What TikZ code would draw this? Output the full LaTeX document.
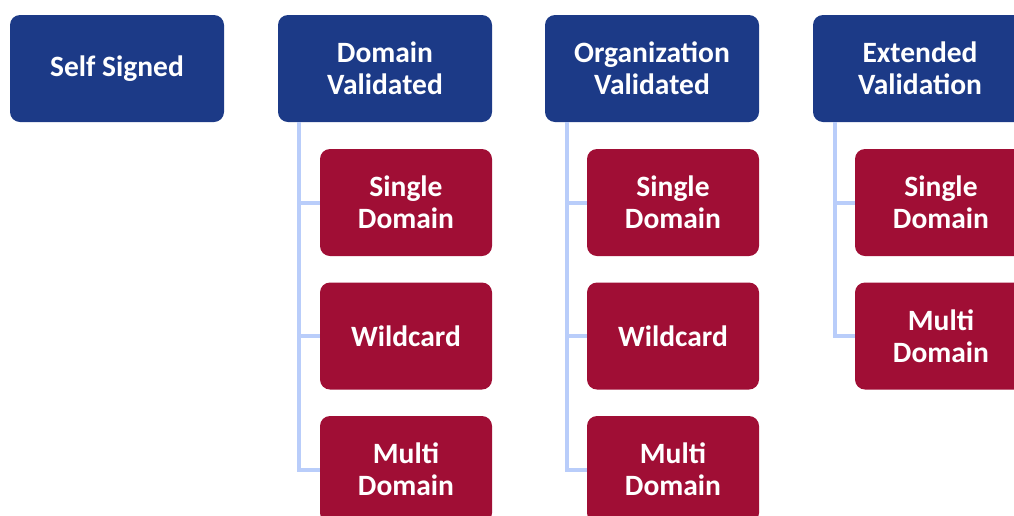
\documentclass[tikz,border=0pt]{standalone}
\usepackage{fontspec}
\setmainfont{Carlito}
\definecolor{hdblue}{RGB}{28,58,135}
\definecolor{itemred}{RGB}{160,14,53}
\definecolor{linkblue}{RGB}{185,205,250}
\tikzset{
  head/.style={fill=hdblue, rounded corners=10pt, minimum width=214pt, minimum height=107pt, inner sep=0pt, text=white, font=\fontsize{29.5}{32}\selectfont\bfseries, align=center},
  item/.style={fill=itemred, rounded corners=10pt, minimum width=172pt, minimum height=107pt, inner sep=0pt, text=white, font=\fontsize{29.5}{32}\selectfont\bfseries, align=center},
  link/.style={draw=linkblue, line width=4pt}
}
\begin{document}
\begin{tikzpicture}[x=1pt,y=-1pt]
\useasboundingbox (0,0) rectangle (1014,515);
\clip (0,0) rectangle (1014,515);
% headers
\node[head] (ss) at (117,68.5) {Self Signed};
\node[head] (dv) at (385,68.5) {Domain\\Validated};
\node[head] (ov) at (652,68.5) {Organization\\Validated};
\node[head] (ev) at (920,68.5) {Extended\\Validation};
% DV items
\node[item] (dv1) at (406,202.5) {Single\\Domain};
\node[item] (dv2) at (406,336) {Wildcard};
\node[item] (dv3) at (406,469.5) {Multi\\Domain};
% OV items
\node[item] (ov1) at (673,202.5) {Single\\Domain};
\node[item] (ov2) at (673,336) {Wildcard};
\node[item] (ov3) at (673,469.5) {Multi\\Domain};
% EV items
\node[item] (ev1) at (941,202.5) {Single\\Domain};
\node[item] (ev2) at (941,336) {Multi\\Domain};
% trunks
\coordinate (dvt) at (299,122);
\coordinate (ovt) at (567,122);
\coordinate (evt) at (835,122);
\draw[link] (dvt) |- (dv3.west);
\draw[link] (dvt |- dv1.west) -- (dv1.west);
\draw[link] (dvt |- dv2.west) -- (dv2.west);
\draw[link] (ovt) |- (ov3.west);
\draw[link] (ovt |- ov1.west) -- (ov1.west);
\draw[link] (ovt |- ov2.west) -- (ov2.west);
\draw[link] (evt) |- (ev2.west);
\draw[link] (evt |- ev1.west) -- (ev1.west);
\end{tikzpicture}
\end{document}
